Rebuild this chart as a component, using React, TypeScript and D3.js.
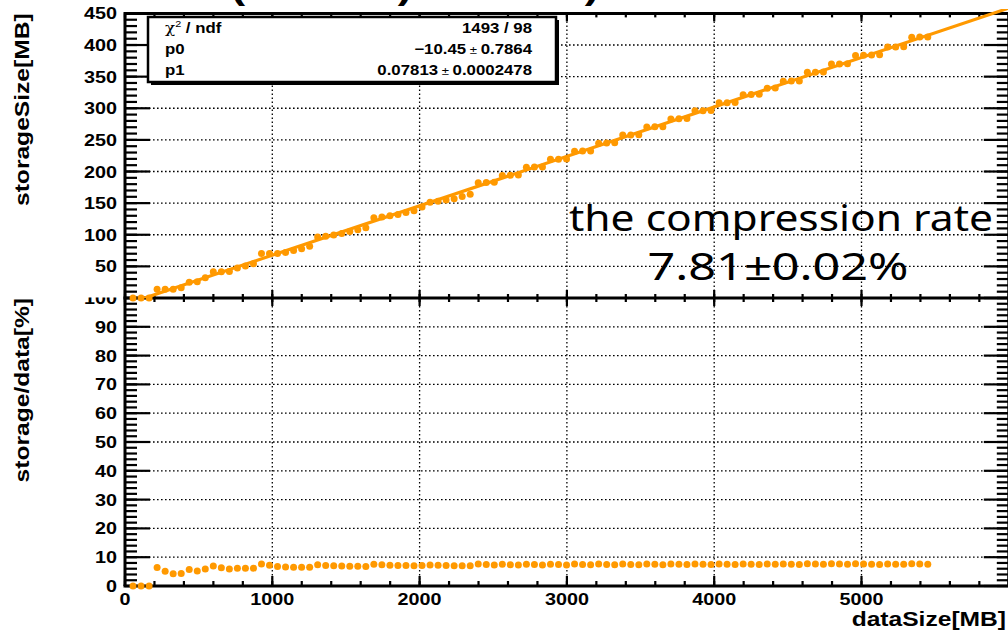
import React from 'react';
import * as d3 from 'd3';

// ---- data ----
const dataSize = [54.5, 109, 163.5, 218, 272.5, 327, 381.5, 436, 490.5, 545, 599.5, 654, 708.5, 763, 817.5, 872, 926.5, 981, 1035.5, 1090, 1144.5, 1199, 1253.5, 1308, 1362.5, 1417, 1471.5, 1526, 1580.5, 1635, 1689.5, 1744, 1798.5, 1853, 1907.5, 1962, 2016.5, 2071, 2125.5, 2180, 2234.5, 2289, 2343.5, 2398, 2452.5, 2507, 2561.5, 2616, 2670.5, 2725, 2779.5, 2834, 2888.5, 2943, 2997.5, 3052, 3106.5, 3161, 3215.5, 3270, 3324.5, 3379, 3433.5, 3488, 3542.5, 3597, 3651.5, 3706, 3760.5, 3815, 3869.5, 3924, 3978.5, 4033, 4087.5, 4142, 4196.5, 4251, 4305.5, 4360, 4414.5, 4469, 4523.5, 4578, 4632.5, 4687, 4741.5, 4796, 4850.5, 4905, 4959.5, 5014, 5068.5, 5123, 5177.5, 5232, 5286.5, 5341, 5395.5, 5450];

const storageSize = [0, 0, 0, 14, 14, 14, 16.4, 25, 25.5, 32,
  41.4, 41.4, 41.8, 47.3, 50.7, 54, 70.4, 70.4, 70.4, 72,
  75, 78, 82, 96.5, 97.5, 99.5, 102, 105, 108, 111,
  127, 128, 130, 132, 135, 138, 144, 151.2, 153, 155,
  157, 160.5, 164, 182.4, 182.6, 182.9, 193.8, 194, 194.3, 206.8,
  207, 207.3, 219.3, 219.5, 219.8, 232.1, 232.3, 232.6, 244.8, 245,
  245.3, 257.6, 257.8, 258.1, 270.4, 270.6, 270.9, 283.2, 283.4, 283.7,
  295.9, 296.1, 296.4, 308.7, 308.9, 309.2, 321.5, 321.7, 322, 331.8,
  332.1, 342.8, 343, 343.3, 356.8, 357, 357.3, 369.8, 370, 370.3,
  383.6, 383.9, 384.2, 384.5, 396.8, 397, 397.3, 412.3, 412.5, 412.8];

const fitP0 = -10.45;
const fitP1 = 0.07813;

const statsNames = ['ndf', 'p0', 'p1'];
const statsValues = ['1493 / 98', ['\u221210.45', '0.7864'], ['0.07813', '0.0002478']];

const xTickValues = [0, 1000, 2000, 3000, 4000, 5000];
const topYTickValues = [50, 100, 150, 200, 250, 300, 350, 400, 450];
const botYTickValues = [0, 10, 20, 30, 40, 50, 60, 70, 80, 90];
const annotationLines = ['the compression rate', '7.81\u00b10.02%'];

// ---- layout ----
const W = 1008, H = 636;
const X0 = 125, X1 = 1008.8;
const TOP_B = 298, TOP_T = 13.4;
const BOT_B = 586, BOT_T = 298;
const ORANGE = '#ff9900';
const BOLD = "'Liberation Sans', Arial, Helvetica, sans-serif";

const x = d3.scaleLinear().domain([0, 6000]).range([X0, X1]);
const yTop = d3.scaleLinear().domain([0, 450]).range([TOP_B, TOP_T]);
const yBot = d3.scaleLinear().domain([0, 100]).range([BOT_B, BOT_T]);

const ratio = dataSize.map((d, i) => (storageSize[i] / d) * 100);

function T({ x: tx, y: ty, anchor = 'start', size = 16.5, weight = 'bold', sx = 1.2, family = BOLD, children }: any) {
  return (
    <text
      transform={`translate(${tx},${ty}) scale(${sx},1)`}
      textAnchor={anchor}
      fontSize={size}
      fontWeight={weight}
      fontFamily={family}
      fill="#000"
    >
      {children}
    </text>
  );
}

function Grid({ ys, yScale, yTopPx, yBotPx }: any) {
  const dash = '1.6 2.4';
  return (
    <g stroke="#000" strokeWidth={1.3} strokeDasharray={dash}>
      {ys.map((v: number) => (
        <line key={'h' + v} x1={X0} x2={X1} y1={yScale(v)} y2={yScale(v)} />
      ))}
      {[1000, 2000, 3000, 4000, 5000].map((v) => (
        <line key={'v' + v} x1={x(v)} x2={x(v)} y1={yTopPx} y2={yBotPx} />
      ))}
    </g>
  );
}

function YTicks({ scale, max, major, minor }: any) {
  const majors = d3.range(0, max + 0.001, major);
  const minors = d3.range(0, max + 0.001, minor);
  return (
    <g stroke="#000" strokeWidth={2.2}>
      {minors.map((v: number) => (
        <g key={'m' + v}>
          <line x1={X0} x2={X0 + 12} y1={scale(v)} y2={scale(v)} />
          <line x1={X1} x2={X1 - 12} y1={scale(v)} y2={scale(v)} />
        </g>
      ))}
      {majors.map((v: number) => (
        <g key={'M' + v}>
          <line x1={X0} x2={X0 + 25} y1={scale(v)} y2={scale(v)} />
          <line x1={X1} x2={X1 - 25} y1={scale(v)} y2={scale(v)} />
        </g>
      ))}
    </g>
  );
}

function XTicks({ yPx, dir, major, minor }: any) {
  const majors = d3.range(0, 6001, 1000);
  const minors = d3.range(0, 6001, 200);
  return (
    <g stroke="#000" strokeWidth={2.2}>
      {minors.map((v: number) => (
        <line key={'m' + v} x1={x(v)} x2={x(v)} y1={yPx} y2={yPx + dir * minor} />
      ))}
      {majors.map((v: number) => (
        <line key={'M' + v} x1={x(v)} x2={x(v)} y1={yPx} y2={yPx + dir * major} />
      ))}
    </g>
  );
}

export default function App() {
  const fitLine = d3.line<number>()
    .x((d) => x(d))
    .y((d) => yTop(fitP0 + fitP1 * d));
  const fitXs = [0, 6000];

  return (
    <svg width={W} height={H} style={{ position: 'absolute', left: 0, top: 0, background: '#fff' }}>
      <defs>
        <clipPath id="topClip">
          <rect x={X0} y={9} width={X1 - X0} height={TOP_B - 9} />
        </clipPath>
        <clipPath id="lblClip">
          <rect x={0} y={297.5} width={200} height={30} />
        </clipPath>
      </defs>
      <rect x={0} y={0} width={W} height={H} fill="#fff" />

      {/* cut-off title fragments */}
      <T x={238} y={-1} size={36} anchor="middle">(</T>
      <T x={405} y={-1} size={36} anchor="middle">)</T>
      <T x={592} y={-1} size={36} anchor="middle">)</T>

      {/* grids */}
      <Grid ys={[...topYTickValues]} yScale={yTop} yTopPx={TOP_T} yBotPx={TOP_B} />
      <Grid ys={botYTickValues.filter((v) => v > 0)} yScale={yBot} yTopPx={BOT_T} yBotPx={BOT_B} />

      {/* ticks */}
      <YTicks scale={yTop} max={450} major={50} minor={10} />
      <YTicks scale={yBot} max={100} major={10} minor={2} />
      <XTicks yPx={TOP_T} dir={1} major={8} minor={4} />
      <XTicks yPx={TOP_B} dir={-1} major={8} minor={4} />
      <XTicks yPx={BOT_T} dir={1} major={8} minor={4} />
      <XTicks yPx={BOT_B} dir={-1} major={10} minor={5} />

      {/* frames */}
      <g stroke="#000" strokeWidth={3} fill="none">
        <line x1={X0} x2={X1} y1={TOP_T} y2={TOP_T} />
        <line x1={X0 - 1.5} x2={X1} y1={TOP_B} y2={TOP_B} />
        <line x1={X0 - 1.5} x2={X1} y1={BOT_B} y2={BOT_B} />
        <line x1={X0} x2={X0} y1={TOP_T - 1.5} y2={BOT_B} />
        <line x1={X1} x2={X1} y1={TOP_T - 1.5} y2={BOT_B} />
      </g>

      {/* tick labels */}
      {topYTickValues.map((v) => (
        <T key={'ty' + v} x={117} y={yTop(v) + 6} anchor="end">{v}</T>
      ))}
      {botYTickValues.map((v) => (
        <T key={'by' + v} x={117} y={yBot(v) + 6} anchor="end">{v}</T>
      ))}
      <g clipPath="url(#lblClip)">
        <T x={117} y={yBot(100) + 6} anchor="end">100</T>
      </g>
      {xTickValues.map((v) => (
        <T key={'x' + v} x={x(v)} y={605} anchor="middle">{v}</T>
      ))}

      {/* axis titles */}
      <g transform={`translate(29,${TOP_T}) rotate(-90)`}>
        <T x={0} y={0} anchor="end" size={20.5}>storageSize[MB]</T>
      </g>
      <g transform={`translate(29,${BOT_T}) rotate(-90)`}>
        <T x={0} y={0} anchor="end" size={20.5}>storage/data[%]</T>
      </g>
      <T x={1006} y={626} anchor="end" size={20.5}>dataSize[MB]</T>

      {/* fit line */}
      <path d={fitLine(fitXs) || ''} stroke={ORANGE} strokeWidth={3.2} fill="none" clipPath="url(#topClip)" />

      {/* points */}
      <g fill={ORANGE}>
        {dataSize.map((d, i) => (
          <circle key={'t' + i} cx={x(d)} cy={yTop(storageSize[i])} r={3.5} />
        ))}
        {dataSize.map((d, i) => (
          <circle key={'b' + i} cx={x(d)} cy={yBot(ratio[i])} r={3.5} />
        ))}
      </g>

      {/* stats box */}
      <rect x={151} y={20} width={408} height={65} fill="#000" />
      <rect x={148} y={17} width={408} height={65} fill="#fff" stroke="#000" strokeWidth={2.5} />
      <text transform={`translate(165,33) scale(1.2,1)`} fontSize={14} fontFamily={BOLD} fontWeight="bold">
        <tspan fontWeight="normal" fontFamily="'DejaVu Serif', serif">χ</tspan>
        <tspan fontSize={9} dy={-6} fontWeight="normal">2</tspan>
        <tspan dy={6}>{' / ' + statsNames[0]}</tspan>
      </text>
      <T x={165} y={54} size={14}>{statsNames[1]}</T>
      <T x={165} y={75} size={14}>{statsNames[2]}</T>
      <T x={532} y={33} size={14} anchor="end">{statsValues[0] as string}</T>
      {[1, 2].map((k) => {
        const v = statsValues[k] as string[];
        return (
          <T key={'sv' + k} x={532} y={k === 1 ? 54 : 75} size={14} anchor="end">
            {v[0]}
            <tspan fontWeight="normal" fontSize={11}>{'  \u00b1  '}</tspan>
            {v[1]}
          </T>
        );
      })}

      {/* annotation */}
      <text x={781} y={231} textAnchor="middle" fontSize={36} fontFamily="'Noto Sans', 'Open Sans', sans-serif"
        textLength={424} lengthAdjust="spacingAndGlyphs">{annotationLines[0]}</text>
      <text x={778} y={280} textAnchor="middle" fontSize={38} fontFamily="'Noto Sans', 'Open Sans', sans-serif"
        textLength={261} lengthAdjust="spacingAndGlyphs">{annotationLines[1]}</text>
    </svg>
  );
}
